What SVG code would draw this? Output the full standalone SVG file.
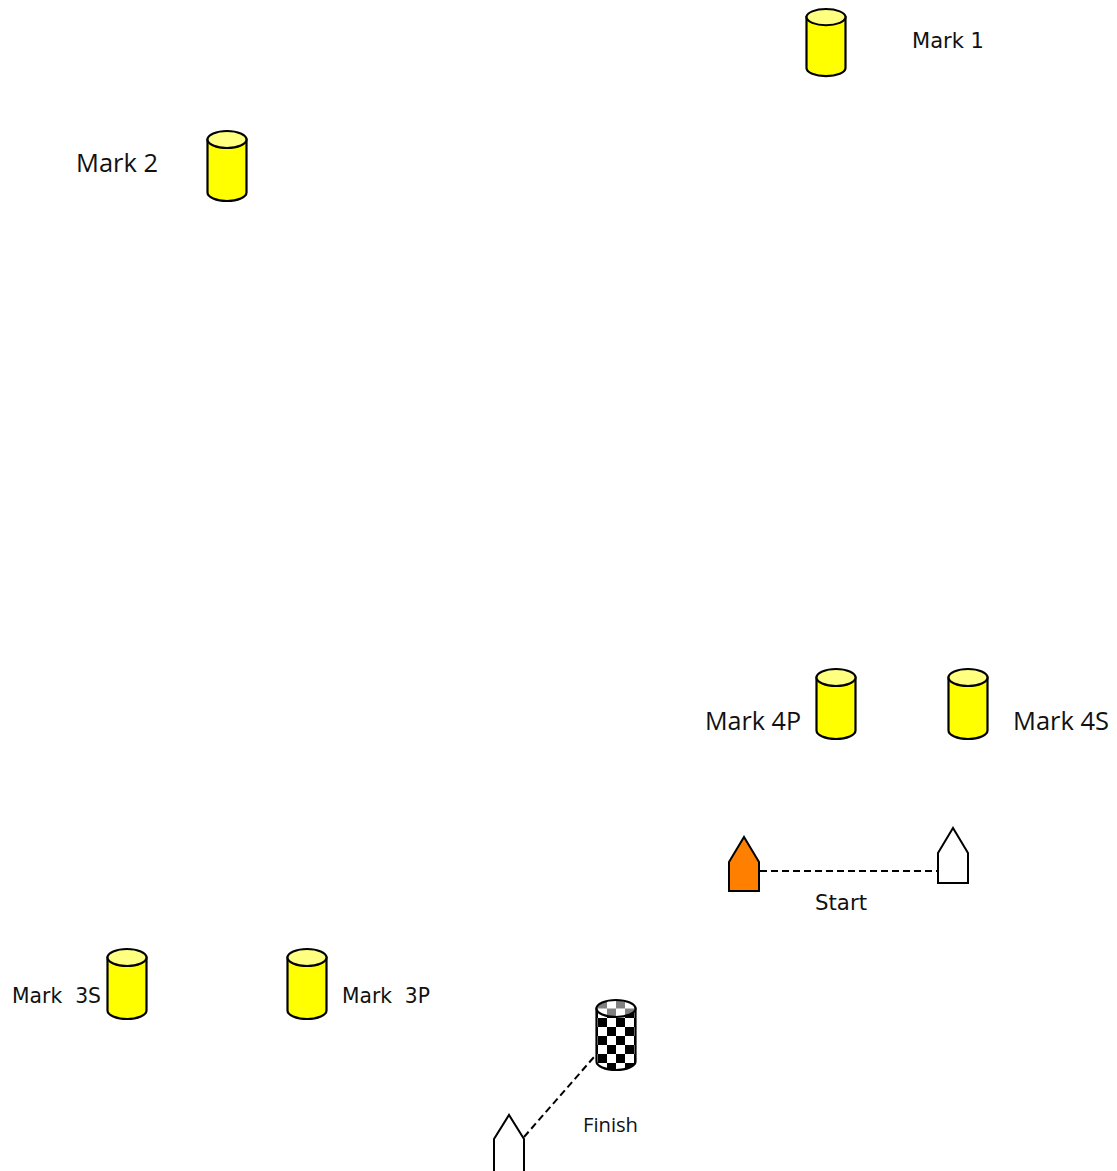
<svg xmlns="http://www.w3.org/2000/svg" xmlns:xlink="http://www.w3.org/1999/xlink" width="1117" height="1171" viewBox="0 0 1117 1171">
<style>
.cylBody{fill:#ffff00;stroke:#000;stroke-width:2.2}
.cylTop{fill:#ffff80;stroke:#000;stroke-width:2.2}
.v{font-family:"DejaVu Sans",Verdana,sans-serif;font-size:21px;fill:#111}
.c{font-family:"Open Sans","Liberation Sans",sans-serif;font-size:25px;fill:#111}
.cs{font-family:"Open Sans","Liberation Sans",sans-serif;font-size:20px;fill:#111}
.boat{stroke:#000;stroke-width:2;stroke-linejoin:miter}
.dash{fill:none;stroke:#000;stroke-width:2;stroke-dasharray:7 4}
</style>
<defs>
<g id="cyl">
<path class="cylBody" d="M-19.5,9.5 V62.5 A19.5,8.5 0 0 0 19.5,62.5 V9.5 Z"/>
<ellipse class="cylTop" cx="0" cy="9.5" rx="19.5" ry="8.5"/>
</g>
<pattern id="chk" patternUnits="userSpaceOnUse" x="598" y="1018" width="18" height="18">
<rect width="18" height="18" fill="#fff"/>
<rect x="0" y="0" width="9" height="9" fill="#000"/>
<rect x="9" y="9" width="9" height="9" fill="#000"/>
</pattern>
<pattern id="chkTop" patternUnits="userSpaceOnUse" x="598" y="1000" width="18" height="17">
<rect width="18" height="17" fill="#fff"/>
<rect x="0" y="0" width="9" height="8.5" fill="#808080"/>
<rect x="9" y="8.5" width="9" height="8.5" fill="#808080"/>
</pattern>
</defs>

<g id="connectors">
<path class="dash" d="M760,871 H937"/>
<path class="dash" d="M524,1137 L594,1057"/>
</g>

<g id="mark1">
<use xlink:href="#cyl" href="#cyl" x="826" y="8" transform="translate(826,8) scale(1,0.96) translate(-826,-8)"/>
<text class="v" x="912" y="48" textLength="72" lengthAdjust="spacingAndGlyphs">Mark 1</text>
</g>

<g id="mark2">
<use xlink:href="#cyl" href="#cyl" x="227" y="130"/>
<text class="c" x="76" y="171.5" textLength="82" lengthAdjust="spacingAndGlyphs">Mark 2</text>
</g>

<g id="mark4p">
<use xlink:href="#cyl" href="#cyl" x="836" y="668"/>
<text class="c" x="705" y="730" textLength="96" lengthAdjust="spacingAndGlyphs">Mark 4P</text>
</g>

<g id="mark4s">
<use xlink:href="#cyl" href="#cyl" x="968" y="668"/>
<text class="c" x="1013" y="730" textLength="96" lengthAdjust="spacingAndGlyphs">Mark 4S</text>
</g>

<g id="mark3s">
<use xlink:href="#cyl" href="#cyl" x="127" y="948"/>
<text class="v" x="12" y="1002.5" textLength="89" lengthAdjust="spacingAndGlyphs" xml:space="preserve">Mark  3S</text>
</g>

<g id="mark3p">
<use xlink:href="#cyl" href="#cyl" x="307" y="948"/>
<text class="v" x="342" y="1002.5" textLength="88" lengthAdjust="spacingAndGlyphs" xml:space="preserve">Mark  3P</text>
</g>

<g id="finishMark">
<path d="M596.5,1008.5 V1061.5 A19.5,8.5 0 0 0 635.5,1061.5 V1008.5 Z" fill="url(#chk)" stroke="#000" stroke-width="2.2"/>
<ellipse cx="616" cy="1008.5" rx="19.5" ry="8.5" fill="url(#chkTop)" stroke="#000" stroke-width="2.2"/>
</g>

<g id="startBoatPin">
<polygon class="boat" fill="#ff7f00" points="729,862 744,837 759,862 759,891 729,891"/>
</g>

<g id="startBoat">
<polygon class="boat" fill="#fff" points="938,853 953,828 968,853 968,883 938,883"/>
<text class="v" x="815" y="910" textLength="52" lengthAdjust="spacingAndGlyphs">Start</text>
</g>

<g id="finishBoat">
<polygon class="boat" fill="#fff" points="494,1139 509,1115 524,1139 524,1176 494,1176"/>
<text class="cs" x="583" y="1132" textLength="55" lengthAdjust="spacingAndGlyphs">Finish</text>
</g>
</svg>
